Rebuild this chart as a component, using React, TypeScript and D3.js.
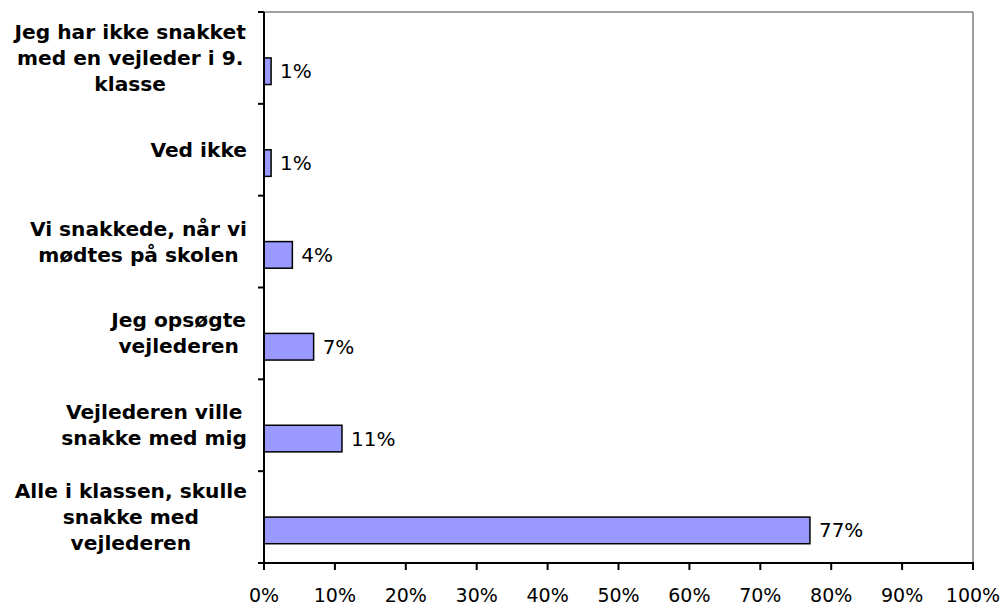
import React, { useRef, useEffect } from 'react';
import { select, scaleBand, scaleLinear } from 'd3';

const categories = [
  'Jeg har ikke snakket\nmed en vejleder i 9.\nklasse',
  'Ved ikke',
  'Vi snakkede, når vi\nmødtes på skolen',
  'Jeg opsøgte\nvejlederen',
  'Vejlederen ville\nsnakke med mig',
  'Alle i klassen, skulle\nsnakke med\nvejlederen',
];
const values = [1, 1, 4, 7, 11, 77];
const xTicks = [0, 10, 20, 30, 40, 50, 60, 70, 80, 90, 100];

const W = 1007;
const H = 607;
const plot = { left: 264, right: 973, top: 12, bottom: 563 };
const font = 'DejaVu Sans, Verdana, sans-serif';
const labelSize = 20.2;
const valueSize = 20;
const tickSize = 19;
const lineGap = 26;
const labelRight = 247;

const App: React.FC = () => {
  const svgRef = useRef<SVGSVGElement>(null);

  useEffect(() => {
    const svg = select(svgRef.current as any);
    svg.selectAll('*').remove();

    const xScale = scaleLinear().domain([0, 100]).range([plot.left, plot.right]);
    const yScale = scaleBand()
      .domain(categories)
      .range([plot.top, plot.bottom])
      .padding(0);
    const bw = yScale.bandwidth();
    const barH = bw * 0.29;

    // frame: grey top/right, black axes
    svg.append('line')
      .attr('x1', plot.left).attr('x2', plot.right)
      .attr('y1', plot.top).attr('y2', plot.top)
      .attr('stroke', '#808080').attr('stroke-width', 1.5);
    svg.append('line')
      .attr('x1', plot.right).attr('x2', plot.right)
      .attr('y1', plot.top).attr('y2', plot.bottom)
      .attr('stroke', '#808080').attr('stroke-width', 1.5);

    // bars
    svg.selectAll('.bar')
      .data(values)
      .join('rect')
      .attr('class', 'bar')
      .attr('x', xScale(0))
      .attr('y', (_, i) => (yScale(categories[i]) as number) + bw / 2)
      .attr('width', d => xScale(d) - xScale(0))
      .attr('height', barH)
      .attr('fill', '#9999ff')
      .attr('stroke', '#000')
      .attr('stroke-width', 1.5);

    // value labels
    svg.selectAll('.label_value')
      .data(values)
      .join('text')
      .attr('class', 'label_value')
      .attr('x', d => xScale(d) + 9)
      .attr('y', (_, i) => (yScale(categories[i]) as number) + bw / 2 + barH / 2)
      .attr('dominant-baseline', 'central')
      .style('font-family', font)
      .style('font-size', `${valueSize}px`)
      .text(d => `${d}%`);

    // axes
    svg.append('line')
      .attr('x1', plot.left).attr('x2', plot.left)
      .attr('y1', plot.top).attr('y2', plot.bottom + 1)
      .attr('stroke', '#000').attr('stroke-width', 2);
    svg.append('line')
      .attr('x1', plot.left - 6).attr('x2', plot.right + 1)
      .attr('y1', plot.bottom).attr('y2', plot.bottom)
      .attr('stroke', '#000').attr('stroke-width', 2);

    // category ticks at band edges
    const edges = categories.map(c => yScale(c) as number).concat([plot.bottom]);
    svg.selectAll('.ytick')
      .data(edges)
      .join('line')
      .attr('class', 'ytick')
      .attr('x1', plot.left - 6).attr('x2', plot.left)
      .attr('y1', d => d).attr('y2', d => d)
      .attr('stroke', '#000').attr('stroke-width', 2);

    // x ticks
    svg.selectAll('.xtick')
      .data(xTicks)
      .join('line')
      .attr('class', 'xtick')
      .attr('x1', d => xScale(d)).attr('x2', d => xScale(d))
      .attr('y1', plot.bottom).attr('y2', plot.bottom + 7)
      .attr('stroke', '#000').attr('stroke-width', 2);
    svg.selectAll('.xlabel')
      .data(xTicks)
      .join('text')
      .attr('class', 'xlabel')
      .attr('x', d => xScale(d))
      .attr('y', 602)
      .attr('text-anchor', 'middle')
      .style('font-family', font)
      .style('font-size', `${tickSize}px`)
      .text(d => `${d}%`);

    // category labels: centered lines, box right-aligned
    categories.forEach(cat => {
      const lines = cat.split('\n');
      const cy = (yScale(cat) as number) + bw / 2;
      const g = svg.append('g');
      const t = g.append('text')
        .attr('text-anchor', 'middle')
        .style('font-family', font)
        .style('font-size', `${labelSize}px`)
        .style('font-weight', 'bold');
      lines.forEach((ln, j) => {
        t.append('tspan')
          .attr('x', 0)
          .attr('y', cy + (j - (lines.length - 1) / 2) * lineGap)
          .attr('dominant-baseline', 'central')
          .text(ln);
      });
      const box = (t.node() as SVGTextElement).getBBox();
      g.attr('transform', `translate(${labelRight - box.width / 2}, 0)`);
    });
  }, []);

  return (
    <svg
      ref={svgRef}
      width={W}
      height={H}
      style={{ position: 'absolute', left: 0, top: 0, background: '#fff' }}
    ></svg>
  );
};

export default App;
